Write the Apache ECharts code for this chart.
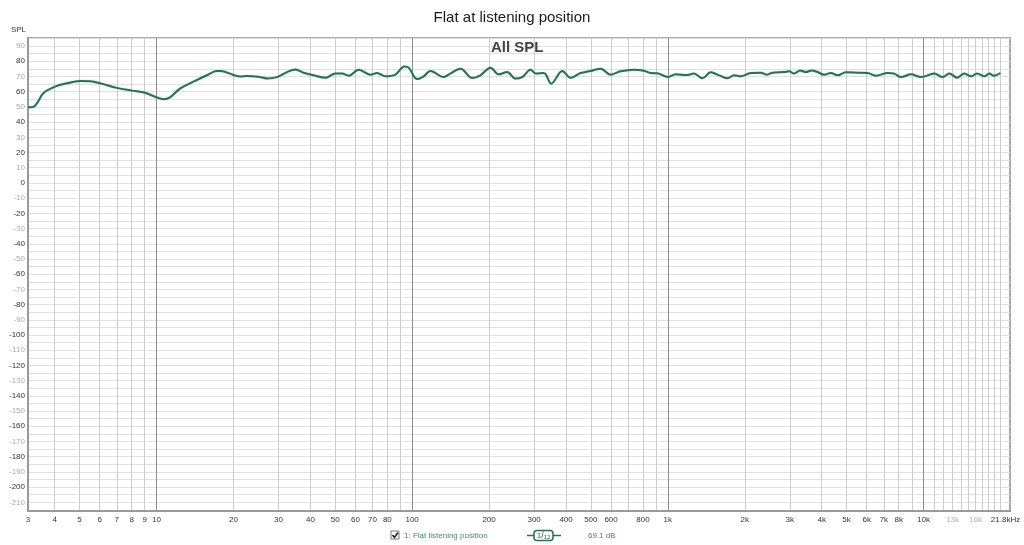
<!DOCTYPE html>
<html><head><meta charset="utf-8">
<script src="https://cdn.jsdelivr.net/npm/echarts@6/dist/echarts.min.js"></script>
<style>html,body{margin:0;padding:0;background:#fff}#c{width:1024px;height:545px}</style>
</head><body><div id="c"></div>
<script>
const chartTitle = 'Flat at listening position';
const plotLabel = 'All SPL';
const legendName = '1: Flat listening position';
const legendValue = '69.1 dB';

// measurement: frequency (Hz) and SPL (dB)
const freqHz = [3.145,3.30,3.44,3.61,4.01,4.46,5.03,5.50,6.02,7.0,8.0,9.03,10.0,10.65,11.3,12.4,13.96,15.75,17.2,17.8,
  20.0,21.3,22.6,25.0,27.1,29.6,32.4,34.9,37.6,41.2,45.8,50.1,53.2,56.5,61.8,68.7,72.9,78.6,86.0,93.3,97.0,
  104.6,111.0,117.9,133,141,154.6,171.8,185,202.6,218,235.5,253.8,269.6,290.6,304,327.6,350,386.7,416.8,456,499,546,598,654,738,807,857,911,
  1002,1074,1193,1266,1366,1472,1564,1712,1816,1930,2112,2311,2440,2568,2851,2983,3119,3293,3467,3651,3852,4089,4343,4613,4973,5526,6046,6516,7241,7686,8164,8934,9777,
  11026,11890,12620,13530,14440,15350,16200,17300,18090,18830,20000];
const splDb = [49.7,50.0,53.3,59.0,63.3,65.5,67.0,66.8,65.5,62.5,60.7,59.3,56.3,55.1,56.3,62.2,66.6,70.8,73.6,73.6,
  71.0,70.0,70.3,69.8,68.7,69.6,72.9,74.6,72.5,70.8,69.2,71.9,71.9,70.5,74.5,71.2,72.3,70.1,71.2,76.6,75.8,
  68.3,70.1,73.6,69.6,71.9,75.1,69.0,70.8,75.8,71.4,72.9,68.6,69.6,74.5,71.9,72.3,65.3,73.6,69.2,72.3,73.6,75.1,71.2,73.4,74.5,73.8,72.3,72.1,
  69.6,71.4,71.0,71.9,68.8,72.7,71.2,68.8,70.8,70.1,72.3,72.5,71.2,72.5,72.9,73.4,71.9,74.0,72.9,74.0,72.9,71.2,72.3,70.8,72.7,72.5,72.3,70.5,72.3,71.9,69.6,71.4,69.6,
  71.9,69.6,71.9,69.2,71.9,70.1,71.9,70.1,71.9,70.5,72.3];

// axis ticks / labels
const xLabelFreqs = [3.145,4,5,6,7,8,9,10,20,30,40,50,60,70,80,100,200,300,400,500,600,800,1000,2000,3000,4000,5000,6000,7000,8000,10000,13000,16000,21800];
const xLabelTexts = ['3','4','5','6','7','8','9','10','20','30','40','50','60','70','80','100','200','300','400','500','600','800','1k','2k','3k','4k','5k','6k','7k','8k','10k','13k','16k','21.8kHz'];
const xLightLabels = ['13k','16k'];
const xMinorGridFreqs = [4,5,6,7,8,9,20,30,40,50,60,70,80,90,200,300,400,500,600,700,800,900,2000,3000,4000,5000,6000,7000,8000,9000,
  11000,12000,13000,14000,15000,16000,17000,18000,19000,20000];
const xMajorGridFreqs = [10,100,1000,10000];
const yLabelValues = [90,80,70,60,50,40,30,20,10,0,-10,-20,-30,-40,-50,-60,-70,-80,-90,-100,-110,-120,-130,-140,-150,-160,-170,-180,-190,-200,-210];
const yGridValues = [95,90,85,80,75,70,65,60,55,50,45,40,35,30,25,20,15,10,5,0,-5,-10,-15,-20,-25,-30,-35,-40,-45,-50,-55,-60,-65,-70,-75,-80,-85,-90,-95,-100,
  -105,-110,-115,-120,-125,-130,-135,-140,-145,-150,-155,-160,-165,-170,-175,-180,-185,-190,-195,-200,-205,-210,-215];
const fMin = 3.145, fMax = 21800, yMin = -215.7, yMax = 95.3;

const L = Math.log10;
const seriesData = freqHz.map((f, i) => [L(f), splDb[i]]);
const labelLog = xLabelFreqs.map(L);
function xText(v) {
  const n = Number(v);
  for (let i = 0; i < labelLog.length; i++) if (Math.abs(labelLog[i] - n) < 1e-9) return xLabelTexts[i];
  return '';
}
const font = 'Liberation Sans, Arial, sans-serif';

const chart = echarts.init(document.getElementById('c'), null, {renderer: 'canvas'});
chart.setOption({
  animation: false,
  backgroundColor: '#fff',
  title: {
    text: chartTitle, left: 'center', top: 5,
    textStyle: {fontFamily: font, fontSize: 15, fontWeight: 'normal', color: '#1a1a1a'}
  },
  grid: {left: 28, right: 14, top: 38, bottom: 34, show: true, borderColor: '#aaaaaa', borderWidth: 2, backgroundColor: '#fff'},
  xAxis: [{
    type: 'value', min: L(fMin), max: L(fMax), position: 'bottom',
    axisLine: {show: true, onZero: false, lineStyle: {color: '#999', width: 2}},
    axisTick: {show: false, customValues: xMinorGridFreqs.map(L)},
    splitLine: {show: true, lineStyle: {color: '#cccccc', width: 1}},
    axisLabel: {
      customValues: labelLog, margin: 5, fontFamily: font, fontSize: 8,
      formatter: v => {
        const t = xText(v);
        return t === '21.8kHz' ? '{r|' + t + '}' : t;
      },
      color: v => xLightLabels.indexOf(xText(v)) >= 0 ? '#b0b0b0' : '#333',
      rich: {r: {fontFamily: font, fontSize: 8, color: '#333', padding: [0, 9, 0, 0]}}
    }
  }, {
    type: 'value', min: L(fMin), max: L(fMax), position: 'bottom',
    axisLine: {show: false, onZero: false}, axisLabel: {show: false},
    axisTick: {show: false, customValues: xMajorGridFreqs.map(L)},
    splitLine: {show: true, lineStyle: {color: '#8c8c8c', width: 1}}
  }],
  yAxis: {
    type: 'value', min: yMin, max: yMax,
    name: 'SPL', nameLocation: 'end', nameGap: 4,
    nameTextStyle: {fontFamily: font, fontSize: 8, color: '#333', align: 'right', padding: [0, 2, 0, 0]},
    axisLine: {show: true, onZero: false, lineStyle: {color: '#999', width: 2}},
    axisTick: {show: false, customValues: yGridValues},
    splitLine: {show: true, lineStyle: {color: '#e0e0e0', width: 1}},
    axisLabel: {
      customValues: yLabelValues, margin: 3, fontFamily: font, fontSize: 8,
      color: v => (Number(v) % 20 === 0 ? '#333' : '#aaaaaa')
    }
  },
  series: [{
    type: 'line', data: seriesData, showSymbol: false, smooth: 0.35,
    xAxisIndex: 0, yAxisIndex: 0,
    lineStyle: {color: '#2e6b58', width: 2, shadowColor: 'rgba(150,225,205,0.7)', shadowBlur: 2},
    z: 5
  }],
  graphic: [
    {type: 'text', left: 491, top: 40, style: {text: plotLabel, font: 'bold 15px ' + font, fill: '#444'}, z: 10},
    {type: 'rect', shape: {x: 391, y: 531, width: 8, height: 8}, style: {fill: '#fff', stroke: '#777', lineWidth: 1}},
    {type: 'polyline', shape: {points: [[392.5, 535], [394.5, 537.5], [398, 532.5]]}, style: {stroke: '#222', lineWidth: 1.6, fill: null}},
    {type: 'text', x: 404, y: 535.5, style: {text: legendName, font: '8px ' + font, fill: '#3e8a70', verticalAlign: 'middle'}},
    {type: 'line', shape: {x1: 527, y1: 535.5, x2: 561, y2: 535.5}, style: {stroke: '#2e6b58', lineWidth: 1.5}},
    {type: 'rect', shape: {x: 534, y: 530.5, width: 19, height: 10, r: 3}, style: {fill: '#fff', stroke: '#2e6b58', lineWidth: 1.5}},
    {type: 'text', x: 543.5, y: 535.5, style: {text: '{a|1}{b|/}{c|12}', align: 'center', verticalAlign: 'middle',
      rich: {a: {font: '8px ' + font, fill: '#2e6b58'}, b: {font: '9px ' + font, fill: '#2e6b58'}, c: {font: '6px ' + font, fill: '#2e6b58', padding: [3, 0, 0, 0]}}}},
    {type: 'text', x: 588, y: 535.5, style: {text: legendValue, font: '8px ' + font, fill: '#3e8a70', verticalAlign: 'middle'}}
  ]
});
</script></body></html>
